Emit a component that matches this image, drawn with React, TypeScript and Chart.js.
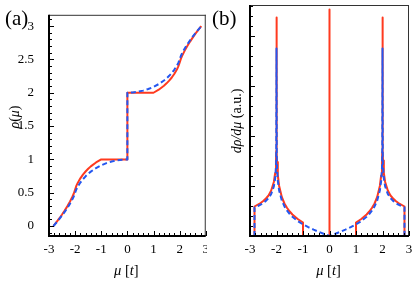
import React, { useEffect, useRef } from 'react';
import { Chart, registerables } from 'chart.js';

Chart.register(...registerables);

// ---------- data ----------
const xTicks = [-3, -2, -1, 0, 1, 2, 3];
const yTicksA = [0, 0.5, 1, 1.5, 2, 2.5, 3];
const yTicksB = [0, 1, 2, 3, 4];

// panel (a): rho(mu)
const muRedA = [-2.83, -2.7, -2.6, -2.5, -2.4, -2.3, -2.2, -2.1, -2.05, -2.0, -1.95, -1.9, -1.8, -1.7, -1.6, -1.5, -1.4, -1.2, -1.0,
  0, 0, 1.0,
  1.2, 1.4, 1.5, 1.6, 1.7, 1.8, 1.9, 1.95, 2.0, 2.05, 2.1, 2.2, 2.3, 2.4, 2.5, 2.6, 2.7, 2.83];
const rhoRedA = [0, 0.065, 0.117, 0.173, 0.232, 0.295, 0.364, 0.443, 0.488, 0.548, 0.605, 0.647, 0.715, 0.771, 0.818, 0.859, 0.895, 0.954, 1.0,
  1.0, 2.0, 2.0,
  2.046, 2.105, 2.141, 2.182, 2.229, 2.285, 2.353, 2.395, 2.452, 2.512, 2.557, 2.636, 2.705, 2.768, 2.827, 2.883, 2.935, 3.0];

const muBlueA = [-2.83, -2.7, -2.6, -2.5, -2.4, -2.3, -2.2, -2.1, -2.05, -2.0, -1.95, -1.9, -1.8, -1.7, -1.6, -1.5, -1.4, -1.2, -1.0, -0.8, -0.6, -0.4, -0.2,
  0, 0,
  0.2, 0.4, 0.6, 0.8, 1.0, 1.2, 1.4, 1.5, 1.6, 1.7, 1.8, 1.9, 1.95, 2.0, 2.05, 2.1, 2.2, 2.3, 2.4, 2.5, 2.6, 2.7, 2.83];
const rhoBlueA = [0, 0.059, 0.107, 0.158, 0.212, 0.269, 0.332, 0.404, 0.445, 0.5, 0.552, 0.590, 0.652, 0.703, 0.746, 0.783, 0.816, 0.870, 0.912, 0.944, 0.968, 0.985, 0.996,
  1.0, 2.0,
  2.004, 2.015, 2.032, 2.056, 2.088, 2.130, 2.184, 2.217, 2.254, 2.297, 2.348, 2.410, 2.448, 2.5, 2.555, 2.596, 2.668, 2.731, 2.788, 2.842, 2.893, 2.941, 3.0];

// panel (b): d rho / d mu (a.u.)
const muRedB = [-2.83, -2.83, -2.7, -2.6, -2.5, -2.4, -2.3, -2.2, -2.1, -2.05, -2.02, -2.01, -2.0, -1.99, -1.98, -1.95, -1.9, -1.8, -1.7, -1.6, -1.5, -1.4, -1.2, -1.0,
  -1.0, 0, 0, 0, 1.0,
  1.0, 1.2, 1.4, 1.5, 1.6, 1.7, 1.8, 1.9, 1.95, 1.98, 1.99, 2.0, 2.01, 2.02, 2.05, 2.1, 2.2, 2.3, 2.4, 2.5, 2.6, 2.7, 2.83, 2.83];
const dosRedB = [0, 0.59, 0.63, 0.66, 0.70, 0.75, 0.81, 0.91, 1.08, 1.26, 1.51, 1.70, 4.37, 1.68, 1.48, 1.21, 1.00, 0.78, 0.65, 0.56, 0.49, 0.43, 0.34, 0.27,
  0, 0, 4.53, 0, 0,
  0.27, 0.34, 0.43, 0.49, 0.56, 0.65, 0.78, 1.00, 1.21, 1.48, 1.68, 4.37, 1.70, 1.51, 1.26, 1.08, 0.91, 0.81, 0.75, 0.70, 0.66, 0.63, 0.59, 0];

const muBlueB = [-2.83, -2.83, -2.7, -2.6, -2.5, -2.4, -2.3, -2.2, -2.1, -2.05, -2.02, -2.01, -2.0, -1.99, -1.98, -1.95, -1.9, -1.8, -1.7, -1.6, -1.5, -1.4, -1.2, -1.0, -0.8, -0.6, -0.4, -0.2, 0,
  0.2, 0.4, 0.6, 0.8, 1.0, 1.2, 1.4, 1.5, 1.6, 1.7, 1.8, 1.9, 1.95, 1.98, 1.99, 2.0, 2.01, 2.02, 2.05, 2.1, 2.2, 2.3, 2.4, 2.5, 2.6, 2.7, 2.83, 2.83];
const dosBlueB = [0, 0.571, 0.600, 0.627, 0.660, 0.702, 0.758, 0.840, 0.992, 1.153, 1.376, 1.549, 3.75, 1.534, 1.351, 1.103, 0.910, 0.710, 0.591, 0.506, 0.440, 0.385, 0.299, 0.232, 0.176, 0.127, 0.083, 0.041, 0,
  0.041, 0.083, 0.127, 0.176, 0.232, 0.299, 0.385, 0.440, 0.506, 0.591, 0.710, 0.910, 1.103, 1.351, 1.534, 3.75, 1.549, 1.376, 1.153, 0.992, 0.840, 0.758, 0.702, 0.660, 0.627, 0.600, 0.571, 0];

// ---------- style ----------
const RED = '#ff3a1f';
const BLUE = '#2457f0';
const SERIF = "'Liberation Serif', 'Times New Roman', serif";

type Part = [string, boolean];

function pts(xs: number[], ys: number[]) {
  return xs.map((x, i) => ({ x, y: ys[i] }));
}

function drawRich(ctx: CanvasRenderingContext2D, parts: Part[], cx: number, cy: number, size: number, rotate: boolean) {
  ctx.save();
  ctx.translate(cx, cy);
  if (rotate) ctx.rotate(-Math.PI / 2);
  const fonts = parts.map(([, it]) => `${it ? 'italic ' : ''}${size}px ${SERIF}`);
  let total = 0;
  const widths = parts.map(([t], i) => {
    ctx.font = fonts[i];
    const w = ctx.measureText(t).width;
    total += w;
    return w;
  });
  let x = -total / 2;
  ctx.textBaseline = 'middle';
  ctx.textAlign = 'left';
  ctx.fillStyle = '#000';
  parts.forEach(([t], i) => {
    ctx.font = fonts[i];
    ctx.fillText(t, x, 0);
    x += widths[i];
  });
  ctx.restore();
}

interface PanelProps {
  left: number;
  width: number;
  yWidth: number;
  padRight: number;
  yMin: number;
  yMax: number;
  yTicks: number[];
  yMinorStep: number;
  yMajorEvery: number;
  showYLabels: boolean;
  tag: string;
  yTitle: Part[];
  yTitleX: number;
  yTitleY: number;
  muRed: number[];
  red: number[];
  muBlue: number[];
  blue: number[];
}

const HEIGHT = 289;

function Panel(p: PanelProps) {
  const ref = useRef<HTMLCanvasElement | null>(null);
  useEffect(() => {
    if (!ref.current) return;
    const decor = {
      id: 'decor',
      afterDraw(chart: any) {
        const { ctx, chartArea } = chart;
        const { left, right, top, bottom } = chartArea;
        const xs = chart.scales.x;
        const ys = chart.scales.y;
        ctx.save();
        // ticks (inward)
        ctx.strokeStyle = '#000';
        ctx.lineWidth = 1;
        ctx.beginPath();
        for (let k = -15; k <= 15; k++) {
          const v = k * 0.2;
          const px = Math.round(xs.getPixelForValue(v)) + 0.5;
          const len = k % 5 === 0 ? 5 : 3;
          ctx.moveTo(px, bottom);
          ctx.lineTo(px, bottom - len);
        }
        const n0 = Math.ceil(p.yMin / p.yMinorStep - 1e-6);
        const n1 = Math.floor(p.yMax / p.yMinorStep + 1e-6);
        for (let k = n0; k <= n1; k++) {
          const v = k * p.yMinorStep;
          const py = Math.round(ys.getPixelForValue(v)) + 0.5;
          const len = k % p.yMajorEvery === 0 ? 5 : 3;
          ctx.moveTo(left, py);
          ctx.lineTo(left + len, py);
        }
        ctx.stroke();
        // thin top / right frame
        ctx.strokeStyle = '#333';
        ctx.lineWidth = 1;
        ctx.beginPath();
        ctx.moveTo(left, top + 0.5);
        ctx.lineTo(right, top + 0.5);
        ctx.moveTo(right - 0.5, top);
        ctx.lineTo(right - 0.5, bottom);
        ctx.stroke();
        // thick left / bottom axes
        ctx.strokeStyle = '#000';
        ctx.lineWidth = 2;
        ctx.beginPath();
        ctx.moveTo(left, top);
        ctx.lineTo(left, bottom + 1);
        ctx.moveTo(left - 1, bottom);
        ctx.lineTo(right, bottom);
        ctx.stroke();
        ctx.restore();
        // titles
        drawRich(ctx, p.yTitle, p.yTitleX, p.yTitleY, 14, true);
        drawRich(ctx, [['μ', true], [' [', false], ['t', true], [']', false]], (left + right) / 2 - 1, 271, 14.5, false);
        ctx.save();
        ctx.font = `21px ${SERIF}`;
        ctx.fillStyle = '#000';
        ctx.textAlign = 'left';
        ctx.textBaseline = 'alphabetic';
        ctx.fillText(p.tag, 5, 25);
        ctx.restore();
      },
    };

    const chart = new Chart(ref.current, {
      type: 'line',
      data: {
        datasets: [
          {
            data: pts(p.muRed, p.red),
            borderColor: RED,
            borderWidth: 2,
            pointRadius: 0,
            fill: false,
            borderJoinStyle: 'round',
            order: 2,
          } as any,
          {
            data: pts(p.muBlue, p.blue),
            borderColor: BLUE,
            borderWidth: 2,
            borderDash: [5, 3],
            pointRadius: 0,
            fill: false,
            borderJoinStyle: 'round',
            order: 1,
          } as any,
        ],
      },
      options: {
        animation: false,
        responsive: false,
        maintainAspectRatio: false,
        events: [],
        layout: { padding: { top: 5, right: p.padRight, left: 0, bottom: 0 } },
        plugins: { legend: { display: false }, tooltip: { enabled: false } },
        elements: { line: { tension: 0 } },
        scales: {
          x: {
            type: 'linear',
            min: -3,
            max: 3,
            grid: { display: false },
            border: { display: false },
            afterBuildTicks: (s: any) => {
              s.ticks = xTicks.map((v) => ({ value: v }));
            },
            afterFit: (s: any) => {
              s.height = HEIGHT - 236;
            },
            ticks: {
              padding: -2,
              color: '#000',
              maxRotation: 0,
              autoSkip: false,
              font: { family: SERIF, size: 13 },
              callback: (v: any) => String(v),
            },
          },
          y: {
            type: 'linear',
            min: p.yMin,
            max: p.yMax,
            grid: { display: false },
            border: { display: false },
            afterBuildTicks: (s: any) => {
              s.ticks = p.yTicks.map((v) => ({ value: v }));
            },
            afterFit: (s: any) => {
              s.width = p.yWidth;
            },
            ticks: {
              display: p.showYLabels,
              padding: 7,
              color: '#000',
              font: { family: SERIF, size: 13 },
              callback: (v: any) => String(v),
            },
          },
        },
      } as any,
      plugins: [decor],
    });
    return () => chart.destroy();
  }, []);
  return (
    <canvas
      ref={ref}
      width={p.width}
      height={HEIGHT}
      style={{ position: 'absolute', left: p.left, top: 0, width: p.width, height: HEIGHT, display: 'block' }}
    />
  );
}

export default function App() {
  return (
    <div style={{ position: 'fixed', left: 0, top: 0, width: 415, height: HEIGHT, background: '#fff', overflow: 'hidden' }}>
      <Panel
        left={0}
        width={207}
        yWidth={49}
        padRight={1}
        yMin={-0.15}
        yMax={3.17}
        yTicks={yTicksA}
        yMinorStep={0.1}
        yMajorEvery={5}
        showYLabels={true}
        tag="(a)"
        yTitle={[['ρ', true], ['(', false], ['μ', true], [')', false]]}
        yTitleX={15}
        yTitleY={117}
        muRed={muRedA}
        red={rhoRedA}
        muBlue={muBlueA}
        blue={rhoBlueA}
      />
      <Panel
        left={207}
        width={208}
        yWidth={43}
        padRight={6}
        yMin={0}
        yMax={4.62}
        yTicks={yTicksB}
        yMinorStep={0.2}
        yMajorEvery={5}
        showYLabels={false}
        tag="(b)"
        yTitle={[['dρ/dμ', true], [' (a.u.)', false]]}
        yTitleX={30}
        yTitleY={121}
        muRed={muRedB}
        red={dosRedB}
        muBlue={muBlueB}
        blue={dosBlueB}
      />
    </div>
  );
}
